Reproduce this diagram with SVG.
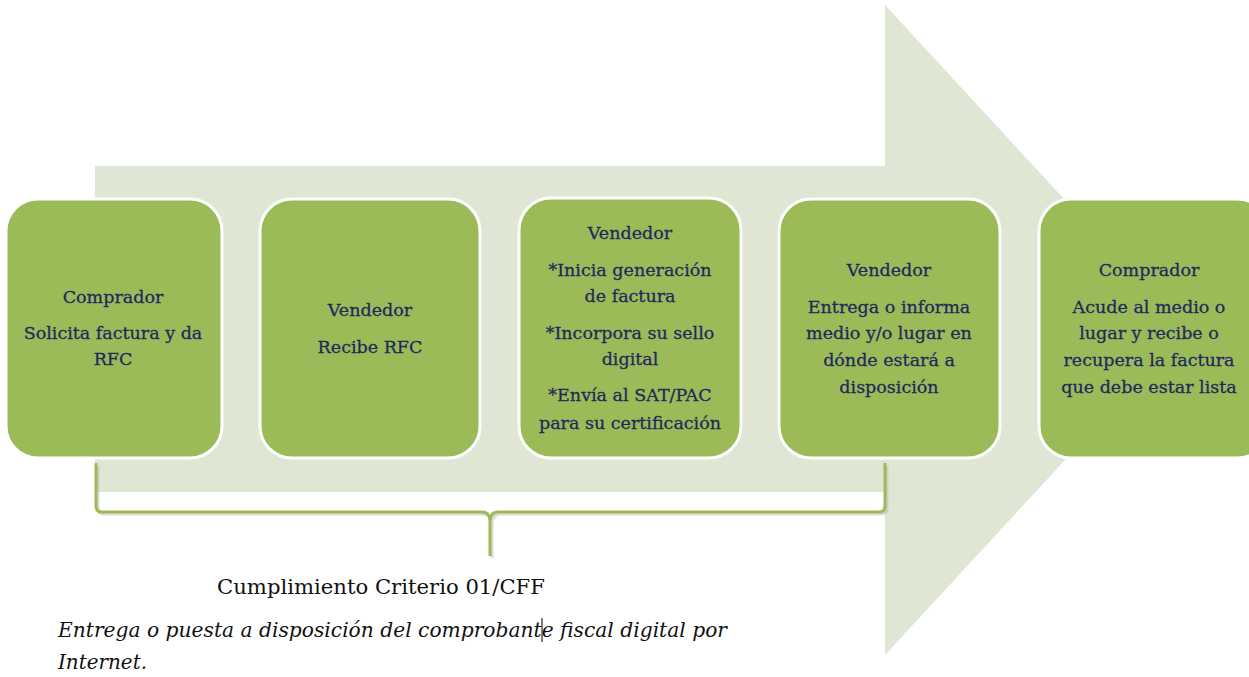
<svg xmlns="http://www.w3.org/2000/svg" width="1249" height="677" viewBox="0 0 1249 677">
<defs>
<style>
.box{fill:#9bbb59;stroke:#ffffff;stroke-width:3}
.t{font-family:"DejaVu Serif","Liberation Serif",serif;font-size:17.5px;fill:#1f2a5c;stroke:#1f2a5c;stroke-width:0.3;text-anchor:middle}
.brace{fill:none;stroke:#9bbb59;stroke-width:3;stroke-linejoin:round}
.shadow{fill:none;stroke:#b8b8b8;stroke-width:3;opacity:0.5}
.b1{font-family:"DejaVu Serif","Liberation Serif",serif;font-size:20px;fill:#111}
.b2{font-family:"DejaVu Serif","Liberation Serif",serif;font-size:21px;font-style:italic;fill:#111}
</style>
</defs>
<rect width="1249" height="677" fill="#ffffff"/>
<g id="arrow">
<polygon points="95,166 885,166 885,5 1185,330 885,655 885,492 95,492" fill="#dfe7d4"/>
</g>
<g id="connectors">
<path class="shadow" d="M98,466 L98,508 Q98,514 104,514 L484,514 Q490,514 492,522 L492,558 M492,522 Q494,514 500,514 L881,514 Q887,514 887,508 L887,466"/>
<path class="brace" d="M96,463 L96,506 Q96,512 102,512 L482,512 Q489,512 490,520 L490,556 M490,520 Q491,512 498,512 L879,512 Q885,512 885,506 L885,463"/>
</g>
<g id="n1">
<rect class="box" x="6" y="199" width="216" height="259" rx="32"/>
<text class="t" x="113" y="303">Comprador</text>
<text class="t" x="113" y="339">Solicita factura y da</text>
<text class="t" x="113" y="365">RFC</text>
</g>
<g id="n2">
<rect class="box" x="260" y="199" width="220" height="259" rx="32"/>
<text class="t" x="370" y="316">Vendedor</text>
<text class="t" x="370" y="353">Recibe RFC</text>
</g>
<g id="n3">
<rect class="box" x="519" y="198" width="222" height="260" rx="32"/>
<text class="t" x="630" y="239">Vendedor</text>
<text class="t" x="630" y="276">*Inicia generación</text>
<text class="t" x="630" y="302">de factura</text>
<text class="t" x="630" y="339">*Incorpora su sello</text>
<text class="t" x="630" y="365">digital</text>
<text class="t" x="630" y="401">*Envía al SAT/PAC</text>
<text class="t" x="630" y="429">para su certificación</text>
</g>
<g id="n4">
<rect class="box" x="779" y="199" width="221" height="259" rx="32"/>
<text class="t" x="889" y="276">Vendedor</text>
<text class="t" x="889" y="313">Entrega o informa</text>
<text class="t" x="889" y="339">medio y/o lugar en</text>
<text class="t" x="889" y="366">dónde estará a</text>
<text class="t" x="889" y="393">disposición</text>
</g>
<g id="n5">
<rect class="box" x="1039" y="199" width="230" height="259" rx="32"/>
<text class="t" x="1149" y="276">Comprador</text>
<text class="t" x="1149" y="313">Acude al medio o</text>
<text class="t" x="1149" y="339">lugar y recibe o</text>
<text class="t" x="1149" y="366">recupera la factura</text>
<text class="t" x="1149" y="393">que debe estar lista</text>
</g>
<g id="caption">
<text class="b1" x="217" y="594" textLength="328" lengthAdjust="spacingAndGlyphs">Cumplimiento  Criterio 01/CFF</text>
<text class="b2" x="58" y="637" textLength="669" lengthAdjust="spacingAndGlyphs">Entrega o puesta a disposición del comprobante fiscal digital por</text>
<text class="b2" x="58" y="669" textLength="89" lengthAdjust="spacingAndGlyphs">Internet.</text>
<line x1="542" y1="618" x2="542" y2="642" stroke="#000" stroke-width="1"/>
</g>
</svg>
